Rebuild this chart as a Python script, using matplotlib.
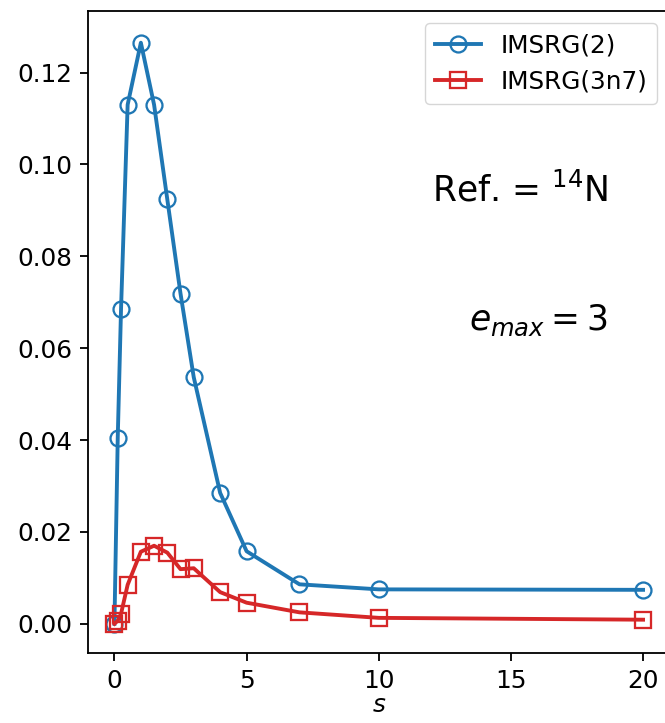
import matplotlib
matplotlib.use("Agg")
import matplotlib.pyplot as plt

# data
s_vals = [0, 0.125, 0.25, 0.5, 1.0, 1.5, 2.0, 2.5, 3.0, 4.0, 5.0, 7.0, 10.0, 20.0]
imsrg2 = [0.0, 0.0405, 0.0686, 0.1130, 0.1265, 0.1130, 0.0924, 0.0719, 0.0537,
          0.0285, 0.0158, 0.0086, 0.0075, 0.0074]
imsrg3n7 = [0.0, 0.0007, 0.0022, 0.0085, 0.0157, 0.0170, 0.0155, 0.0119, 0.0121,
            0.0069, 0.0046, 0.0025, 0.0013, 0.0009]
labels = ["IMSRG(2)", "IMSRG(3n7)"]

scale = 1.64
fscale = 1.78
plt.rcParams.update({
    "font.size": 10 * fscale,
    "axes.linewidth": 0.8 * scale,
    "xtick.major.width": 0.8 * scale,
    "ytick.major.width": 0.8 * scale,
    "xtick.major.size": 3.5 * scale,
    "ytick.major.size": 3.5 * scale,
    "xtick.major.pad": 3.5 * scale,
    "ytick.major.pad": 3.5 * scale,
})

fig = plt.figure(figsize=(6.65, 7.23), dpi=100)
W, H = 665, 723
left, right, top, bottom = 88, 669.5, 11, 653
ax = fig.add_axes([left / W, 1 - bottom / H, (right - left) / W, (bottom - top) / H])

ax.plot(s_vals, imsrg2, color="#1f77b4", lw=1.7 * scale, marker="o", ms=7 * scale,
        mfc="none", mew=1.0 * scale, label=labels[0])
ax.plot(s_vals, imsrg3n7, color="#d62728", lw=1.7 * scale, marker="s", ms=7 * scale,
        mfc="none", mew=1.0 * scale, label=labels[1])

ax.set_xlim(-1, 21)
ax.set_ylim(-0.00635, 0.1334)
ax.set_xticks([0, 5, 10, 15, 20])
ax.set_yticks([0.0, 0.02, 0.04, 0.06, 0.08, 0.10, 0.12])
ax.set_yticklabels(["0.00", "0.02", "0.04", "0.06", "0.08", "0.10", "0.12"])
ax.set_xlabel("$s$", labelpad=0)

ax.legend(loc="upper right", fontsize=10 * fscale, handlelength=2.0 * scale / fscale)

fig.text(608 / W, 1 - 190 / H, r"Ref. = $^{14}$N", fontsize=14 * fscale,
         ha="right", va="center")
fig.text(608 / W, 1 - 320 / H, r"$e_{max} = 3$", fontsize=14 * fscale,
         ha="right", va="center")

fig.savefig("out.png", dpi=100)
